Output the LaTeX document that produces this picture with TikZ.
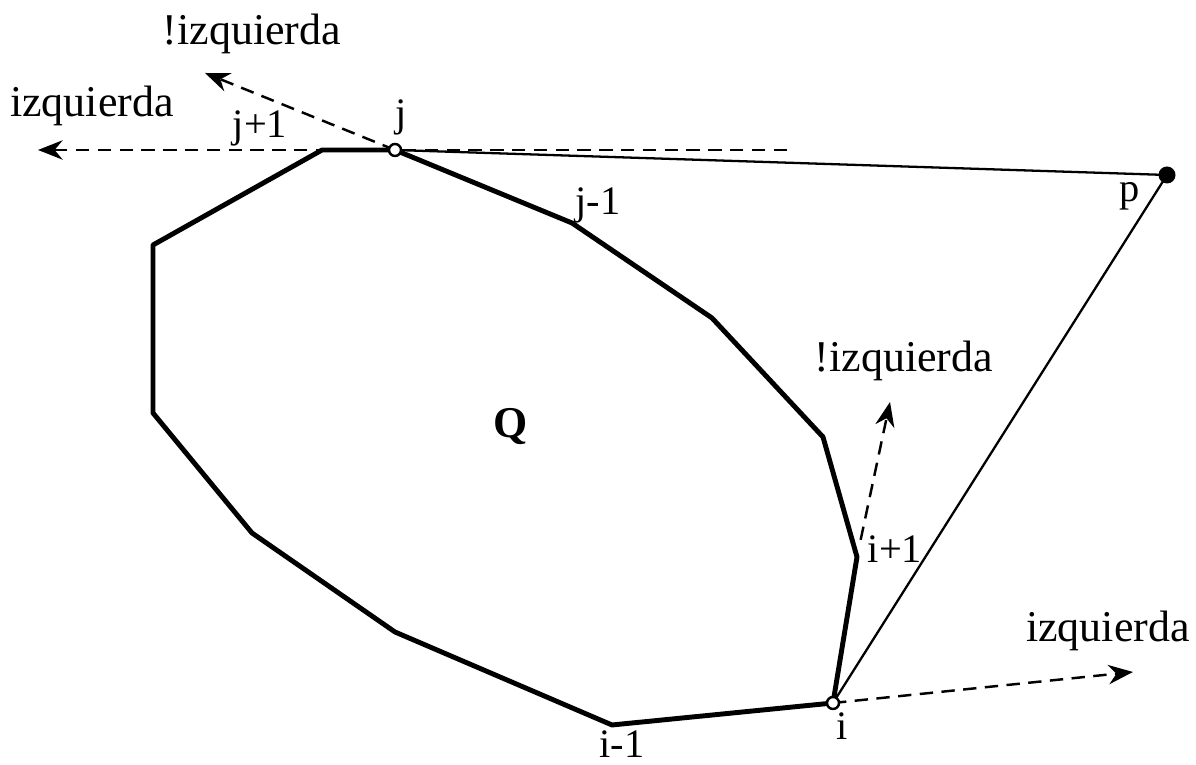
\documentclass[tikz,border=0pt]{standalone}
\usepackage{fontspec}
\setmainfont{Liberation Serif}
\usetikzlibrary{arrows.meta}

\begin{document}
\begin{tikzpicture}[
        x=0.01cm, y=-0.01cm,
        hull/.style={draw=black, line width=1.4pt, line join=round},
        tangent/.style={draw=black, line width=0.65pt},
        ray/.style={-{Stealth[length=7pt, width=5.5pt]}, line width=0.7pt, dash pattern=on 3.8pt off 2.4pt},
        vertex/.style={circle, draw=black, fill=white, line width=0.7pt, inner sep=0pt, minimum size=0.12cm},
        apex/.style={circle, fill=black, inner sep=0pt, minimum size=0.17cm},
        lbl/.style={font=\fontsize{12.5}{14}\selectfont, anchor=base, inner sep=0pt},
        idx/.style={font=\fontsize{11.5}{13}\selectfont, anchor=base, inner sep=0pt},
    ]
        \useasboundingbox (0,0) rectangle (1196,765);

        % polygon Q
        \coordinate (j) at (395,150);
        \coordinate (jm) at (572,223);
        \coordinate (q3) at (712,318);
        \coordinate (q4) at (823,437);
        \coordinate (ip) at (857,557);
        \coordinate (i) at (833,703);
        \coordinate (im) at (612,725);
        \coordinate (q8) at (395,632);
        \coordinate (q9) at (252,533);
        \coordinate (q10) at (153,413);
        \coordinate (q11) at (153,245);
        \coordinate (jp) at (322,150);
        \draw[hull] (j) -- (jm) -- (q3) -- (q4) -- (ip) -- (i) -- (im) -- (q8)
            -- (q9) -- (q10) -- (q11) -- (jp) -- cycle;

        % point p and tangents
        \node[apex] (p) at (1167,175) {};
        \draw[tangent] (p.center) -- (j);
        \draw[tangent] (p.center) -- (i);

        % direction arrows
        \coordinate (jright) at (787,150);
        \coordinate (jleft) at (38,150);
        \coordinate (jup) at (205,73);
        \coordinate (ipup) at (890,402);
        \coordinate (iright) at (1133,672);
        \draw[ray] (jright) -- (jleft);
        \draw[ray] (j) -- (jup);
        \draw[ray, shorten <=5pt] (ip) -- (ipup);
        \draw[ray] (i) -- (iright);

        \node[vertex] (jdot) at (j) {};
        \node[vertex] (idot) at (i) {};

        % labels
        \node[lbl] (notleftj) at (252,45) {!izquierda};
        \node[lbl] (leftj) at (92,117) {izquierda};
        \node[lbl] (notlefti) at (904,372) {!izquierda};
        \node[lbl] (lefti) at (1108,642) {izquierda};
        \node[idx] (ljp) at (260,138) {j+1};
        \node[idx] (lj) at (401,127) {j};
        \node[idx] (ljm) at (598,215) {j-1};
        \node[idx] (lp) at (1130,202) {p};
        \node[idx] (lip) at (895,563) {i+1};
        \node[idx] (li) at (842,740) {i};
        \node[idx] (lim) at (622,758) {i-1};
        \node[lbl, font=\fontsize{12.5}{14}\selectfont\bfseries] (lq) at (511,438) {Q};
    \end{tikzpicture}
\end{document}
